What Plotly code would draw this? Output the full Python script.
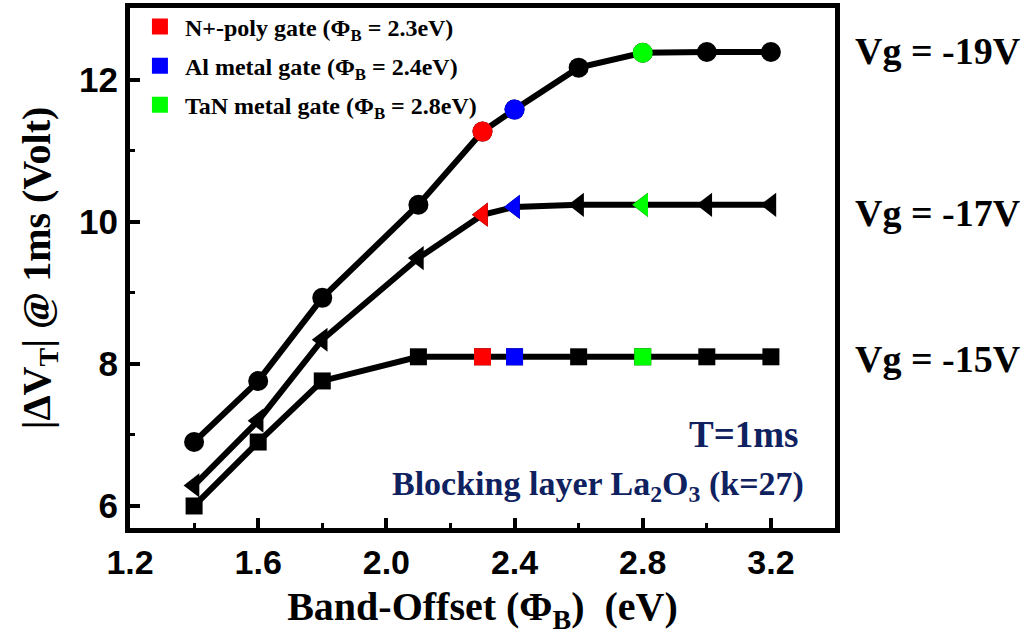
import plotly.graph_objects as go

# Band offset (eV) and threshold-voltage shift |dVT| at 1 ms (V)
band_offset = [1.4, 1.6, 1.8, 2.1, 2.3, 2.4, 2.6, 2.8, 3.0, 3.2]
dvt_vg19 = [6.90, 7.76, 8.93, 10.24, 11.27, 11.58, 12.17, 12.38, 12.39, 12.39]
dvt_vg17 = [6.29, 7.20, 8.34, 9.49, 10.10, 10.21, 10.24, 10.24, 10.24, 10.24]
dvt_vg15 = [6.00, 6.90, 7.76, 8.10, 8.10, 8.10, 8.10, 8.10, 8.10, 8.10]

series_labels = ["Vg = -19V", "Vg = -17V", "Vg = -15V"]
series_symbols = ["circle", "triangle-left", "square"]
series_sizes = [20, 21, 17]

# Gate electrodes highlighted on every curve
gate_names = ["N+-poly gate", "Al metal gate", "TaN metal gate"]
gate_phi = [2.3, 2.4, 2.8]
gate_colors = ["#ff0000", "#0000ff", "#00ff00"]

x_ticks = [1.2, 1.6, 2.0, 2.4, 2.8, 3.2]
x_ticktext = ["1.2", "1.6", "2.0", "2.4", "2.8", "3.2"]
y_ticks = [6, 8, 10, 12]
y_ticktext = ["6", "8", "10", "12"]

SERIF = "Liberation Serif, Times New Roman, serif"
SANS = "Liberation Sans, Arial, sans-serif"
NAVY = "#0f225f"

series_values = [dvt_vg19, dvt_vg17, dvt_vg15]

fig = go.Figure()

for vals, sym, size, name in zip(series_values, series_symbols, series_sizes, series_labels):
    fig.add_trace(go.Scatter(
        x=band_offset, y=vals, mode="lines+markers", name=name,
        line=dict(color="black", width=6),
        marker=dict(symbol=sym, size=size, color="black", opacity=1, line=dict(width=0)),
        showlegend=False,
    ))

# Coloured markers for the three gate materials (square first so the legend shows a square)
order = [2, 1, 0]
for gname, phi, col in zip(gate_names, gate_phi, gate_colors):
    idx = band_offset.index(phi)
    fig.add_trace(go.Scatter(
        x=[phi] * 3,
        y=[series_values[k][idx] for k in order],
        mode="markers",
        name=f"{gname} (\u03a6<sub>B</sub> = {phi}eV)",
        legendgroup=gname,
        marker=dict(symbol=[series_symbols[k] for k in order],
                    size=[series_sizes[k] for k in order],
                    color=col, opacity=1, line=dict(width=0)),
    ))

# Series labels on the right-hand side
label_shift = [1, -8, -2]
for vals, name, ys in zip(series_values, series_labels, label_shift):
    fig.add_annotation(
        x=1.026, xref="paper", y=vals[-1], yref="y", yshift=ys,
        text=name, showarrow=False, xanchor="left", yanchor="middle",
        font=dict(family=SERIF, size=38, color="black", weight="bold"),
    )

fig.add_annotation(
    x=(800 - 130) / 705, xref="paper", y=(528 - 434) / 520, yref="paper",
    text="T=1ms", showarrow=False, xanchor="right", yanchor="middle",
    font=dict(family=SERIF, size=37, color=NAVY, weight="bold"),
)
fig.add_annotation(
    x=(806 - 130) / 705, xref="paper", y=(528 - 486) / 520, yref="paper",
    text="Blocking layer La<sub>2</sub>O<sub>3</sub> (k=27)", showarrow=False,
    xanchor="right", yanchor="middle",
    font=dict(family=SERIF, size=34, color=NAVY, weight="bold"),
)

fig.update_layout(
    width=1030, height=642,
    margin=dict(l=130, r=195, t=8, b=114, autoexpand=False),
    paper_bgcolor="white", plot_bgcolor="white",
    showlegend=True,
    legend=dict(
        x=0.007, y=1.007, xanchor="left", yanchor="top",
        bgcolor="rgba(0,0,0,0)", borderwidth=0,
        font=dict(family=SERIF, size=24, color="black", weight="bold"),
        traceorder="grouped", tracegroupgap=5, itemwidth=40,
    ),
    xaxis=dict(
        range=[1.2, 3.4], tickvals=x_ticks, ticktext=x_ticktext,
        showgrid=False, zeroline=False,
        showline=True, linewidth=5, linecolor="black", mirror=True,
        ticks="inside", ticklen=10, tickwidth=4, tickcolor="black",
        minor=dict(dtick=0.2, tick0=1.2, ticks="inside", ticklen=5, tickwidth=3, tickcolor="black"),
        tickfont=dict(family=SANS, size=34, color="black", weight="bold"),
        title=dict(text="Band-Offset (\u03a6<sub>B</sub>)  (eV)",
                   font=dict(family=SERIF, size=40, color="black", weight="bold"), standoff=14),
    ),
    yaxis=dict(
        range=[5.69, 13.01], tickvals=y_ticks, ticktext=y_ticktext,
        showgrid=False, zeroline=False,
        showline=True, linewidth=5, linecolor="black", mirror=True,
        ticks="inside", ticklen=10, tickwidth=4, tickcolor="black",
        minor=dict(dtick=1, tick0=6, ticks="inside", ticklen=5, tickwidth=3, tickcolor="black"),
        tickfont=dict(family=SANS, size=35, color="black", weight="bold"),
        title=dict(text="|\u0394V<sub>T</sub>| @ 1ms (Volt)",
                   font=dict(family=SERIF, size=40, color="black", weight="bold"), standoff=18),
    ),
)

fig.write_html("out.html")
